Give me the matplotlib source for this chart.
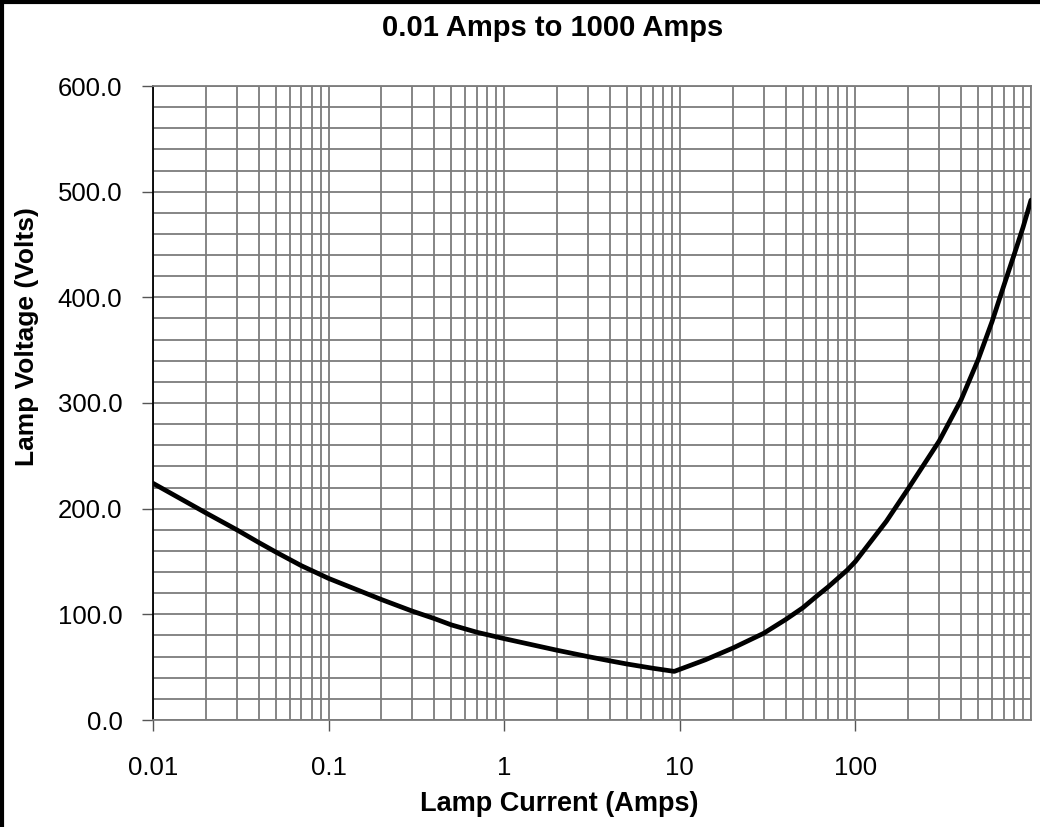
import numpy as np
import matplotlib
matplotlib.use("Agg")
from matplotlib import pyplot as plt
from matplotlib.ticker import LogLocator, MultipleLocator, FixedLocator, FixedFormatter
from matplotlib.lines import Line2D

plt.rcParams['font.family'] = ['Liberation Sans', 'DejaVu Sans']

# lamp current (A) and lamp voltage (V)
courant = [0.01, 0.02, 0.03, 0.04, 0.05, 0.07, 0.1, 0.2, 0.3, 0.4, 0.5, 0.7,
           1, 2, 3, 4, 5, 7, 9.3, 14, 20, 30, 40, 50, 60, 70, 90, 100, 150,
           200, 300, 400, 500, 600, 700, 800, 900, 1000]
tension = [224, 196, 180, 168, 159, 146, 134, 114, 103, 96, 90, 83,
           77, 66, 60, 56, 53, 49, 46, 57, 68, 82, 95, 106, 117, 126, 142, 150, 188,
           219, 264, 303, 341, 377, 411, 440, 466, 492]

x_ticks = [0.01, 0.1, 1, 10, 100]
x_labels = ["0.01", "0.1", "1", "10", "100"]
y_ticks = [0, 100, 200, 300, 400, 500, 600]
y_labels = ["%.1f" % v for v in y_ticks]

titre = "0.01 Amps to 1000 Amps"
label_x = "Lamp Current (Amps)"
label_y = "Lamp Voltage (Volts)"

fig = plt.figure(figsize=(10.4, 8.27), dpi=100)
ax = fig.add_axes([153/1040, 1 - 720/827, (1031 - 153)/1040, (720 - 86)/827])

ax.set_xscale('log')
ax.set_xlim(0.01, 1000)
ax.set_ylim(0, 600)

# grid: every 20 V and 1..9 per decade
ax.xaxis.set_major_locator(FixedLocator(x_ticks))
ax.xaxis.set_major_formatter(FixedFormatter(x_labels))
ax.xaxis.set_minor_locator(LogLocator(base=10, subs=np.arange(1, 10), numticks=20))
ax.xaxis.set_minor_formatter(plt.NullFormatter())
ax.yaxis.set_major_locator(FixedLocator(y_ticks))
ax.yaxis.set_major_formatter(FixedFormatter(y_labels))
ax.yaxis.set_minor_locator(MultipleLocator(20))

ax.grid(True, which='both', color='#7c7c7c', linewidth=1.3)
ax.set_axisbelow(True)

ax.plot(courant, tension, color='black', linewidth=3.4, solid_capstyle='round', zorder=5)

ax.tick_params(axis='both', which='minor', length=0)
ax.tick_params(axis='y', which='major', length=8, width=1, color='#555555',
               labelsize=18.5, pad=14)
ax.tick_params(axis='x', which='major', length=8, width=1, color='#555555',
               labelsize=18.5, pad=18)

for s in ax.spines.values():
    s.set_color('#7c7c7c')
    s.set_linewidth(1.3)
ax.spines['left'].set_color('black')

fig.text(553/1040, 1 - 28/827, titre, ha='center', va='center',
         fontsize=21, fontweight='bold')
fig.text(559/1040, 1 - 804/827, label_x, ha='center', va='center',
         fontsize=19.5, fontweight='bold')
fig.text(27/1040, 1 - 337/827, label_y, ha='center', va='center',
         rotation=90, fontsize=19, fontweight='bold')

# frame of the scanned page
fig.add_artist(Line2D([2/1040, 2/1040], [0, 1], transform=fig.transFigure,
                      color='black', linewidth=3))
fig.add_artist(Line2D([0, 1], [1 - 2/827, 1 - 2/827], transform=fig.transFigure,
                      color='black', linewidth=3))

plt.savefig("out.png", dpi=100)
